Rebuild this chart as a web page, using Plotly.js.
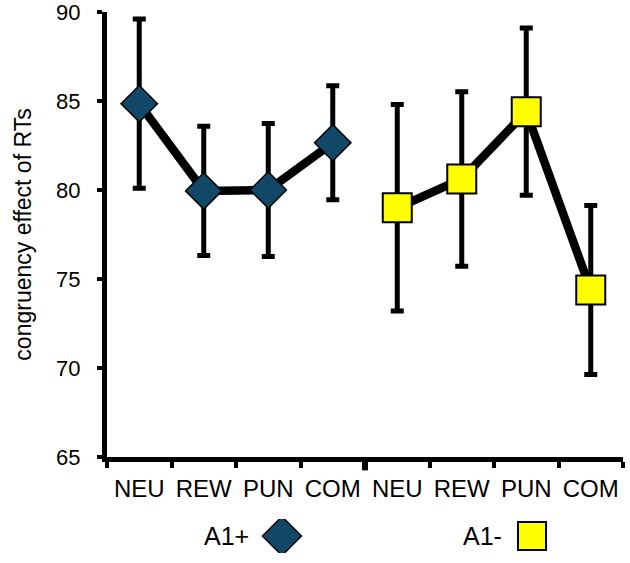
<!DOCTYPE html>
<html>
<head>
<meta charset="utf-8">
<script src="https://cdn.plot.ly/plotly-3.0.1.min.js"></script>
<style>
  html, body { margin: 0; padding: 0; background: #fff; }
</style>
</head>
<body>
<div id="chart" style="width:630px;height:563px;"></div>
<script>
// conditions shown twice along the x axis, once per group
var conditions = ["NEU", "REW", "PUN", "COM"];
var seriesNames = ["A1+", "A1-"];

// congruency effect (ms) and error bar half-lengths
var a1Plus = [84.85, 79.95, 80.0, 82.65];
var a1PlusErr = [4.75, 3.63, 3.73, 3.2];
var a1Minus = [79.0, 80.62, 84.4, 74.38];
var a1MinusErr = [5.8, 4.9, 4.7, 4.75];

var yTicks = [65, 70, 75, 80, 85, 90];

var font = 'Arial, "Liberation Sans", sans-serif';
var n = conditions.length;

var xPlus = conditions.map(function (c, i) { return i; });
var xMinus = conditions.map(function (c, i) { return i + n; });
var allX = xPlus.concat(xMinus);
var boundaries = [-0.5].concat(allX.map(function (x) { return x + 0.5; }));

function errs(arr) {
  return { type: "data", array: arr, visible: true, color: "#000", thickness: 5, width: 6.5 };
}

var trace1 = {
  x: xPlus,
  y: a1Plus,
  name: seriesNames[0],
  type: "scatter",
  mode: "lines+markers",
  line: { color: "#000", width: 8.5 },
  marker: { symbol: "diamond", size: 28, color: "#114868", line: { color: "#000", width: 1.5 } },
  error_y: errs(a1PlusErr),
  showlegend: false
};

var trace2 = {
  x: xMinus,
  y: a1Minus,
  name: seriesNames[1],
  type: "scatter",
  mode: "lines+markers",
  line: { color: "#000", width: 8.5 },
  marker: { symbol: "square", size: 29, color: "#ffff00", line: { color: "#000", width: 2 } },
  error_y: errs(a1MinusErr),
  showlegend: false
};

// legend keys (label to the left of the symbol) on a hidden helper axis
var key1 = {
  x: [seriesNames[0]], y: [0], xaxis: "x2", yaxis: "y2",
  type: "scatter", mode: "markers",
  marker: { symbol: "diamond", size: 30, color: "#114868", line: { color: "#000", width: 1.5 } },
  showlegend: false, hoverinfo: "skip"
};
var key2 = {
  x: [seriesNames[1]], y: [0], xaxis: "x2", yaxis: "y2",
  type: "scatter", mode: "markers",
  marker: { symbol: "square", size: 28, color: "#ffff00", line: { color: "#000", width: 2 } },
  showlegend: false, hoverinfo: "skip"
};

var data = [trace1, trace2, key1, key2];

var keyLabels = seriesNames.map(function (s, i) {
  return {
    x: s, y: 0, xref: "x2", yref: "y2",
    text: s, showarrow: false,
    xanchor: "right", yanchor: "middle",
    xshift: i === 0 ? -31 : -28,
    font: { family: font, size: 25, color: "#000" }
  };
});

var layout = {
  width: 630,
  height: 563,
  margin: { l: 107, r: 7, t: 12, b: 10 },
  paper_bgcolor: "#fff",
  plot_bgcolor: "#fff",
  font: { family: font, color: "#000" },
  showlegend: false,
  xaxis: {
    anchor: "y",
    range: [-0.5, 2 * n - 0.5],
    tickmode: "array",
    tickvals: allX,
    ticktext: conditions.concat(conditions),
    ticks: "",
    ticklabelstandoff: 6,
    ticklabeloverflow: "allow",
    tickfont: { family: font, size: 24, color: "#000" },
    minor: { tickmode: "array", tickvals: boundaries, ticks: "outside", ticklen: 6, tickwidth: 4, tickcolor: "#000", showgrid: false },
    showline: true, linecolor: "#000", linewidth: 5,
    showgrid: false, zeroline: false, fixedrange: true
  },
  yaxis: {
    domain: [0.1774, 1],
    range: [65, 90],
    tickmode: "array",
    tickvals: yTicks,
    ticks: "outside", ticklen: 5, tickwidth: 4, tickcolor: "#000",
    ticklabelstandoff: 12,
    ticklabeloverflow: "allow",
    tickfont: { family: font, size: 22, color: "#000" },
    showline: true, linecolor: "#000", linewidth: 5,
    showgrid: false, zeroline: false, fixedrange: true,
    title: { text: "congruency effect of RTs", font: { family: font, size: 23, color: "#000" }, standoff: 20 }
  },
  xaxis2: {
    anchor: "y2", domain: [0, 1], type: "category",
    categoryorder: "array", categoryarray: seriesNames,
    range: [-0.7, 1.364], visible: false, fixedrange: true
  },
  yaxis2: {
    anchor: "x2", domain: [0, 0.0628], range: [-1, 1], visible: false, fixedrange: true
  },
  annotations: keyLabels,
  shapes: [
    // longer tick separating the two groups
    { type: "line", xref: "x", yref: "y domain", x0: n - 0.5, x1: n - 0.5, y0: 0, y1: -0.03,
      line: { color: "#000", width: 6 } }
  ]
};

Plotly.newPlot("chart", data, layout, { displayModeBar: false, staticPlot: true });
</script>
</body>
</html>
